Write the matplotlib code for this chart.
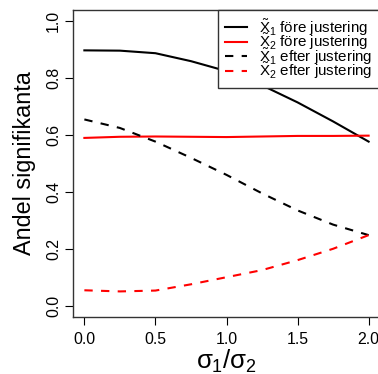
import matplotlib
matplotlib.use("Agg")
import matplotlib.pyplot as plt

plt.rcParams['font.family'] = ['Liberation Sans', 'DejaVu Sans']
plt.rcParams['mathtext.fontset'] = 'custom'
plt.rcParams['mathtext.rm'] = 'Liberation Sans'
plt.rcParams['mathtext.it'] = 'Liberation Sans'

ratio = [0.0, 0.25, 0.5, 0.75, 1.0, 1.25, 1.5, 1.75, 2.0]
x1_fore = [0.898, 0.897, 0.888, 0.860, 0.825, 0.775, 0.715, 0.648, 0.577]
x2_fore = [0.590, 0.594, 0.595, 0.594, 0.593, 0.595, 0.597, 0.597, 0.598]
x1_efter = [0.655, 0.625, 0.577, 0.520, 0.460, 0.395, 0.335, 0.285, 0.248]
x2_efter = [0.054, 0.050, 0.053, 0.075, 0.100, 0.125, 0.160, 0.200, 0.248]

labels = [r'$\tilde{\mathrm{X}}_1$ före justering',
          r'$\tilde{\mathrm{X}}_2$ före justering',
          r'$\tilde{\mathrm{X}}_1$ efter justering',
          r'$\tilde{\mathrm{X}}_2$ efter justering']
xticks = [0.0, 0.5, 1.0, 1.5, 2.0]
yticks = [0.0, 0.2, 0.4, 0.6, 0.8, 1.0]

W, H = 378, 374
fig = plt.figure(figsize=(W/100, H/100), dpi=100)
ax = fig.add_axes([73/W, 1-317/H, (380-73)/W, (317-10)/H])

lw = 1.5
ax.plot(ratio, x1_fore, color='black', lw=lw, label=labels[0])
ax.plot(ratio, x2_fore, color='red', lw=lw, label=labels[1])
ax.plot(ratio, x1_efter, color='black', lw=lw, dashes=(4, 4), label=labels[2])
ax.plot(ratio, x2_efter, color='red', lw=lw, dashes=(4, 4), label=labels[3])

ax.set_xlim(-0.08, 2.08)
ax.set_ylim(-0.04, 1.04)
ax.set_xticks(xticks)
ax.set_xticklabels([f'{t:.1f}' for t in xticks])
ax.set_yticks(yticks)
ax.set_yticklabels([f'{t:.1f}' for t in yticks], rotation=90, va='center')
ax.tick_params(axis='both', direction='out', length=5.5, width=0.8,
               labelsize=11.4, colors='black', pad=5)
ax.tick_params(axis='y', pad=3)
for s in ax.spines.values():
    s.set_linewidth(1.0)
    s.set_color('#333333')

ax.set_ylabel('Andel signifikanta', fontsize=16.8, labelpad=7)
ax.set_xlabel(r'$\sigma_1/\sigma_2$', fontsize=18.5, labelpad=1)

leg = ax.legend(loc='upper left', bbox_to_anchor=(218/W, 1-10/H),
                bbox_transform=fig.transFigure, borderaxespad=0,
                fontsize=10.9, handlelength=1.45, handletextpad=0.8,
                labelspacing=-0.42, borderpad=0.45, fancybox=False,
                framealpha=1)
leg.get_frame().set_edgecolor('#333333')
leg.get_frame().set_linewidth(1.0)

fig.savefig('out.png', dpi=100)
